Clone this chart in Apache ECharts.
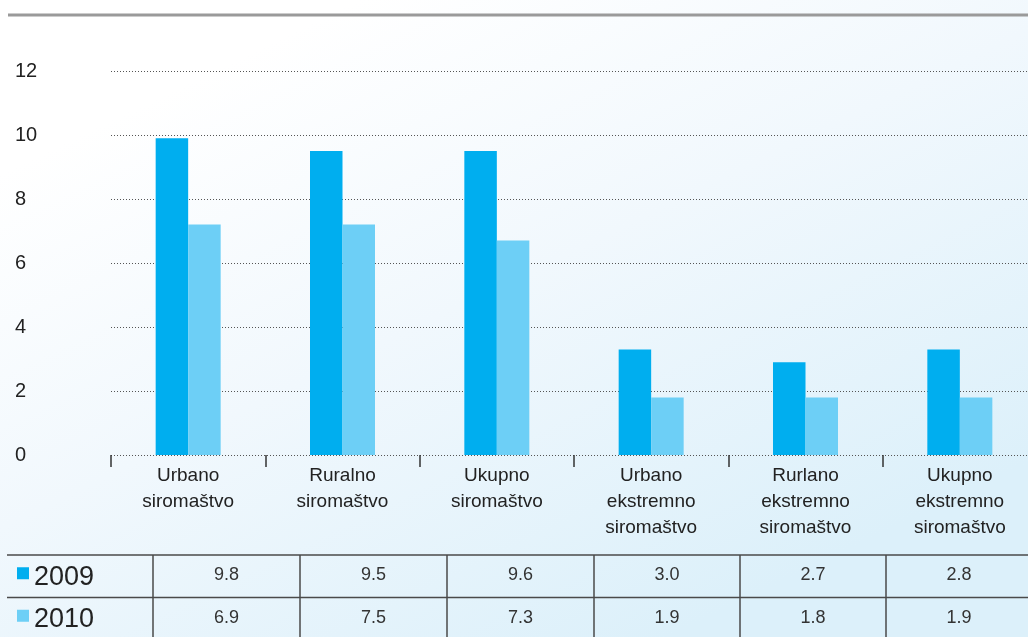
<!DOCTYPE html>
<html>
<head>
<meta charset="utf-8">
<script src="https://cdn.jsdelivr.net/npm/echarts@6/dist/echarts.min.js"></script>
<style>
  html, body { margin: 0; padding: 0; }
  #chart { width: 1028px; height: 637px; }
</style>
</head>
<body>
<div id="chart"></div>
<script>
// categories (x axis)
const categories = [
  'Urbano\nsiromaštvo',
  'Ruralno\nsiromaštvo',
  'Ukupno\nsiromaštvo',
  'Urbano\nekstremno\nsiromaštvo',
  'Rurlano\nekstremno\nsiromaštvo',
  'Ukupno\nekstremno\nsiromaštvo'
]
const seriesNames = ['2009', '2010']
// bar heights as drawn
const values2009 = [9.9, 9.5, 9.5, 3.3, 2.9, 3.3]
const values2010 = [7.2, 7.2, 6.7, 1.8, 1.8, 1.8]
// values printed in the table under the chart
const table2009 = ['9.8', '9.5', '9.6', '3.0', '2.7', '2.8']
const table2010 = ['6.9', '7.5', '7.3', '1.9', '1.8', '1.9']
const yTicks = [0, 2, 4, 6, 8, 10, 12]

const colors = ['#00aeef', '#6dcff6']
const font = '"Liberation Sans", Arial, sans-serif'

const myChart = echarts.init(document.getElementById('chart'))

// table under the chart (legend + values)
const tableTop = 555
const rowH = 42.5
const colX = [153, 300, 447, 594, 740, 886, 1032]
const tableGraphics = []
const lineStyle = { stroke: '#4a4a4a', lineWidth: 1.5 }
// horizontal lines
;[tableTop, tableTop + rowH].forEach((y) => {
  tableGraphics.push({ type: 'line', shape: { x1: 7, y1: y, x2: 1028, y2: y }, style: lineStyle })
})
// vertical lines
colX.slice(0, 6).forEach((x) => {
  tableGraphics.push({ type: 'line', shape: { x1: x, y1: tableTop, x2: x, y2: 637 }, style: lineStyle })
})
// row headers: colour key + year
seriesNames.forEach((name, r) => {
  const cy = tableTop + rowH * r + rowH / 2
  tableGraphics.push({
    type: 'rect',
    shape: { x: 17, y: cy - 9, width: 12, height: 12 },
    style: { fill: colors[r] }
  })
  tableGraphics.push({
    type: 'text',
    x: 34,
    y: cy + 1,
    style: {
      text: name,
      fill: '#222',
      font: '27px ' + font,
      align: 'left',
      verticalAlign: 'middle'
    }
  })
})
// cell texts
;[table2009, table2010].forEach((row, r) => {
  row.forEach((t, i) => {
    tableGraphics.push({
      type: 'text',
      x: (colX[i] + colX[i + 1]) / 2,
      y: tableTop + rowH * r + rowH / 2 - 1,
      style: {
        text: t,
        fill: '#333',
        font: '18px ' + font,
        align: 'center',
        verticalAlign: 'middle'
      }
    })
  })
})
// top rule
tableGraphics.push({
  type: 'line',
  shape: { x1: 8, y1: 15, x2: 1028, y2: 15 },
  style: { stroke: '#9a9a9a', lineWidth: 3 }
})

myChart.setOption({
  backgroundColor: new echarts.graphic.LinearGradient(0.35, 0, 0.65, 1, [
    { offset: 0, color: '#ffffff' },
    { offset: 0.45, color: '#f1f8fd' },
    { offset: 1, color: '#dcf0fa' }
  ]),
  animation: false,
  grid: {
    left: 111,
    right: -9,
    top: 71,
    bottom: 182,
    outerBoundsMode: 'none'
  },
  xAxis: {
    type: 'category',
    data: categories,
    axisLine: { show: false },
    axisTick: { show: true, length: 12, lineStyle: { color: '#333', width: 1.5 } },
    axisLabel: {
      fontSize: 19,
      lineHeight: 26,
      fontFamily: font,
      color: '#222',
      margin: 8,
      interval: 0
    }
  },
  yAxis: {
    type: 'value',
    min: yTicks[0],
    max: yTicks[yTicks.length - 1],
    interval: 2,
    axisLine: { show: false },
    axisTick: { show: false },
    axisLabel: {
      fontSize: 20,
      fontFamily: font,
      color: '#222',
      align: 'left',
      margin: 96
    },
    splitLine: {
      lineStyle: { color: '#555', type: [1, 2], width: 1 }
    }
  },
  series: [
    {
      name: seriesNames[0],
      type: 'bar',
      data: values2009,
      barWidth: 32.5,
      barGap: 0,
      itemStyle: { color: colors[0] }
    },
    {
      name: seriesNames[1],
      type: 'bar',
      data: values2010,
      barWidth: 32.5,
      itemStyle: { color: colors[1] }
    }
  ],
  graphic: tableGraphics
})
</script>
</body>
</html>
